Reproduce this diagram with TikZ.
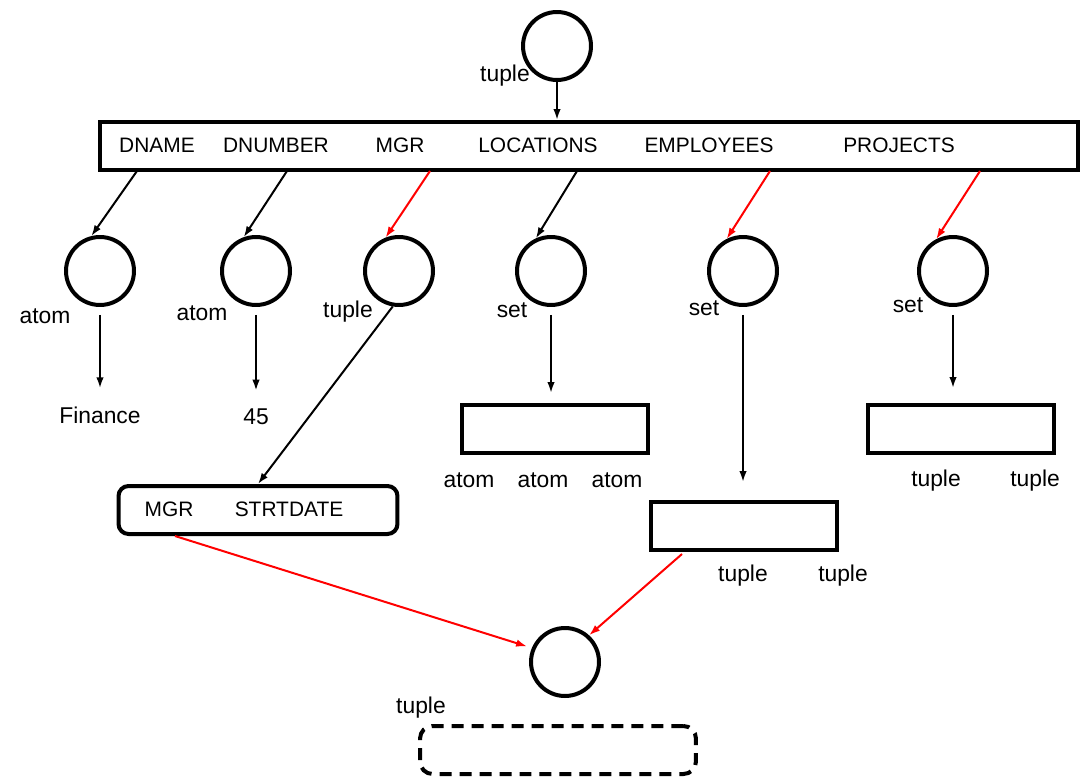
\documentclass[tikz,border=0pt]{standalone}
\usepackage{fontspec}
\setmainfont{Liberation Sans}
\usetikzlibrary{arrows.meta}

\begin{document}
\begin{tikzpicture}[x=0.02cm,y=-0.02cm]

\tikzset{vertex/.style = {shape=circle,draw,line width=0.08cm,minimum size=1.36cm}}
\tikzset{frame/.style = {shape=rectangle,draw,line width=0.08cm,minimum height=0.96cm}}
\tikzset{field/.style = {font=\fontsize{11.9}{14}\selectfont}}
\tikzset{kind/.style = {font=\fontsize{13}{15}\selectfont}}
\tikzset{value/.style = {kind,outer sep=0.25cm}}
\tikzset{arc/.style = {->,>={Latex[length=0.22cm,width=0.15cm]},line width=0.04cm}}
\tikzset{hot/.style = {arc,red}}

\useasboundingbox (0,0) rectangle (1084,777);

% vertices
\node[vertex] (root) at (557,46) {};
\node[vertex] (c1) at (100,271) {};
\node[vertex] (c2) at (256,271) {};
\node[vertex] (c3) at (399,271) {};
\node[vertex] (c4) at (551,271) {};
\node[vertex] (c5) at (743,271) {};
\node[vertex] (c6) at (953,271) {};
\node[vertex] (c7) at (565,662) {};

% boxes
\node[frame,minimum width=19.56cm] (rec) at (589,146) {};
\node[frame,minimum width=5.58cm,rounded corners=0.2cm] (mgr) at (258,510) {};
\node[frame,minimum width=3.74cm] (loc) at (555,429) {};
\node[frame,minimum width=3.72cm] (emp) at (744,526) {};
\node[frame,minimum width=3.72cm] (proj) at (961,429) {};
\node[frame,minimum width=5.52cm,rounded corners=0.25cm,dash pattern=on 0.24cm off 0.16cm] (nxt) at (558,750) {};

% fields
\node[field] (f1) at (157,145) {DNAME};
\node[field] (f2) at (276,145) {DNUMBER};
\node[field] (f3) at (400,145) {MGR};
\node[field] (f4) at (538,145) {LOCATIONS};
\node[field] (f5) at (709,145) {EMPLOYEES};
\node[field] (f6) at (899,145) {PROJECTS};
\node[field] (m1) at (169,509) {MGR};
\node[field] (m2) at (289,509) {STRTDATE};

% labels
\node[kind] (k0) at (505,76) {tuple};
\node[kind] (k1) at (45,316) {atom};
\node[kind] (k2) at (202,313) {atom};
\node[kind] (k3) at (348,312) {tuple};
\node[kind] (k4) at (512,310) {set};
\node[kind] (k5) at (704,308) {set};
\node[kind] (k6) at (908,305) {set};
\node[kind] (k7) at (421,708) {tuple};
\node[kind] (l1) at (469,480) {atom};
\node[kind] (l2) at (543,480) {atom};
\node[kind] (l3) at (617,480) {atom};
\node[kind] (e1) at (743,576) {tuple};
\node[kind] (e2) at (843,576) {tuple};
\node[kind] (p1) at (936,481) {tuple};
\node[kind] (p2) at (1035,481) {tuple};
\node[value] (v1) at (100,415) {Finance};
\node[value] (v2) at (256,417) {45};

% ends on the record
\coordinate (s1) at (137,171);
\coordinate (s2) at (287,171);
\coordinate (s3) at (430,171);
\coordinate (s4) at (577,171);
\coordinate (s5) at (770,171);
\coordinate (s6) at (980,171);
\coordinate (r1) at (175,536);
\coordinate (r2) at (682,554);

% arcs
\draw[arc] (root) -- (root |- rec.north);
\draw[arc] (s1) -- (c1.104);
\draw[arc] (s2) -- (c2.110);
\draw[hot] (s3) -- (c3.112);
\draw[arc] (s4) -- (c4.115);
\draw[hot] (s5) -- (c5.117);
\draw[hot] (s6) -- (c6.118);
\draw[arc,shorten <=0.16cm] (c1) -- (v1);
\draw[arc,shorten <=0.16cm] (c2) -- (v2);
\draw[arc] (c3.260) -- (mgr.north);
\draw[arc,shorten <=0.16cm,shorten >=0.2cm] (c4) -- (c4 |- loc.north);
\draw[arc,shorten <=0.16cm,shorten >=0.36cm] (c5) -- (c5 |- emp.north);
\draw[arc,shorten <=0.16cm,shorten >=0.3cm] (c6) -- (c6 |- proj.north);
\draw[hot,shorten >=0.1cm] (r1) -- (c7.157);
\draw[hot] (r2) -- (c7.48);

\end{tikzpicture}
\end{document}
